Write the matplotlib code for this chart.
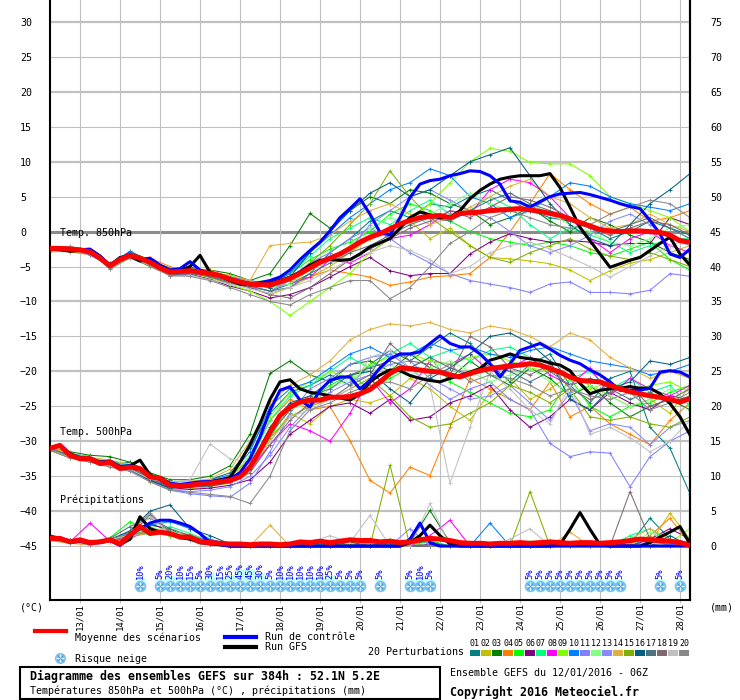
import numpy as np
import matplotlib
matplotlib.use('Agg')
import matplotlib.pyplot as plt
from matplotlib.lines import Line2D
from matplotlib.patches import Rectangle

plt.rcParams['font.family'] = ['DejaVu Sans Mono', 'DejaVu Sans']

# --- donnees : moyenne / controle / GFS toutes les 6h (0..384h) ---
mean850 = [-2.4,-2.4,-2.5,-2.6,-2.9,-3.8,-4.9,-4.0,-3.4,-3.8,
           -4.4,-5.2,-5.8,-5.7,-5.6,-5.8,-6.0,-6.3,-6.8,-7.2,
           -7.5,-7.6,-7.6,-7.2,-6.7,-6.0,-5.2,-4.4,-3.8,-3.2,
           -2.4,-1.5,-0.8,-0.3,0.4,1.1,1.6,2.0,2.2,2.3,
           2.0,2.6,2.7,2.8,3.0,3.1,3.2,3.3,3.1,2.9,
           2.6,2.3,1.8,1.3,0.8,0.3,0.1,0.0,0.1,0.1,
           0.0,-0.1,-0.5,-1.3,-1.5]
ctrl850 = [-2.4,-2.5,-2.6,-2.6,-2.5,-3.5,-4.8,-3.8,-3.2,-4.0,
           -3.8,-4.8,-5.5,-5.3,-4.3,-5.5,-6.0,-6.3,-6.8,-7.3,
           -7.5,-7.3,-7.0,-6.5,-5.5,-4.0,-2.7,-1.5,0.1,2.0,
           3.3,4.7,2.5,-0.1,-0.5,2.0,4.9,6.8,7.3,7.5,
           8.0,8.3,8.7,8.6,8.0,6.8,4.4,4.2,3.5,4.3,
           5.0,5.4,5.5,5.6,5.3,4.9,4.5,4.0,3.6,3.3,
           1.6,-0.3,-3.2,-3.7,-2.5]
gfs850 = [-2.5,-2.6,-2.8,-2.7,-2.6,-3.5,-4.9,-3.7,-3.5,-4.2,
          -4.0,-5.0,-5.8,-5.6,-5.0,-3.4,-5.8,-6.3,-7.0,-7.5,
          -7.6,-7.5,-7.3,-7.0,-6.5,-5.8,-4.8,-4.1,-4.0,-4.1,
          -4.0,-3.2,-2.2,-1.6,-1.0,0.5,2.0,2.8,2.4,2.0,
          2.0,3.0,4.7,5.9,6.8,7.5,7.8,8.0,8.0,8.0,
          8.3,6.3,3.5,0.6,-1.3,-3.2,-5.1,-4.6,-4.1,-3.7,
          -2.7,-1.7,-0.8,-3.2,-4.8]

mean500 = [-31.0,-30.6,-32.0,-32.5,-32.5,-33.2,-33.0,-33.9,-33.7,-33.9,
           -35.1,-35.3,-36.3,-36.4,-36.3,-36.1,-36.0,-35.8,-35.6,-35.1,
           -33.7,-31.3,-28.7,-26.3,-25.1,-24.4,-24.1,-24.1,-23.7,-23.7,
           -23.6,-23.2,-22.6,-21.5,-20.3,-19.5,-19.6,-19.8,-20.0,-20.1,
           -20.5,-20.8,-20.3,-19.9,-19.6,-19.4,-19.2,-19.1,-18.9,-19.1,
           -19.6,-20.1,-20.8,-21.3,-21.4,-21.5,-22.0,-22.5,-22.9,-23.2,
           -23.5,-23.7,-24.0,-24.4,-23.9]
ctrl500 = [-31.0,-30.5,-31.8,-32.3,-32.5,-33.0,-32.8,-33.6,-33.5,-34.0,
           -35.0,-35.2,-36.0,-36.2,-36.0,-35.8,-35.8,-35.6,-35.4,-34.5,
           -32.5,-29.4,-25.6,-22.7,-22.2,-24.1,-25.1,-22.7,-21.3,-20.8,
           -20.8,-22.5,-21.3,-19.5,-18.2,-17.5,-17.5,-17.2,-16.0,-14.9,
           -16.0,-16.5,-16.5,-17.5,-18.9,-20.8,-18.9,-17.0,-16.5,-16.0,
           -16.8,-17.7,-18.4,-18.9,-19.8,-20.5,-21.5,-22.7,-22.7,-22.7,
           -22.4,-20.1,-19.9,-20.1,-20.8]
gfs500 = [-31.0,-30.6,-31.8,-32.5,-32.4,-33.0,-32.9,-33.8,-33.5,-32.7,
          -34.8,-35.5,-36.3,-36.5,-36.4,-36.0,-35.8,-35.5,-35.2,-33.0,
          -30.5,-27.5,-24.0,-21.5,-21.2,-22.5,-23.0,-23.2,-23.5,-23.8,
          -24.1,-23.3,-21.5,-20.5,-19.8,-19.9,-20.6,-21.0,-21.3,-21.5,
          -21.0,-20.6,-20.1,-19.6,-18.4,-18.0,-17.5,-18.0,-18.2,-18.4,
          -18.8,-19.1,-19.9,-21.7,-23.2,-22.7,-22.5,-22.4,-22.2,-22.4,
          -22.4,-23.2,-24.6,-26.5,-29.1]

mean_rr = [1.1,1.1,0.6,0.9,0.5,0.6,0.9,0.3,1.6,2.8,
           1.8,2.0,1.8,1.3,1.3,0.6,0.5,0.4,0.3,0.3,
           0.2,0.3,0.3,0.2,0.3,0.6,0.5,0.7,0.5,0.7,
           0.9,0.8,0.8,0.6,0.7,0.5,0.6,0.9,1.1,1.0,
           0.8,0.5,0.4,0.4,0.3,0.4,0.4,0.5,0.4,0.5,
           0.6,0.5,0.4,0.5,0.5,0.4,0.5,0.6,0.8,1.0,
           0.9,0.8,0.7,0.5,0.1]
ctrl_rr = [1.0,1.2,0.5,0.7,0.4,0.5,0.8,0.1,1.5,2.5,
           3.3,3.7,3.7,3.3,2.8,1.8,0.5,0.2,0,0,
           0,0,0,0,0,0,0,0,0,0,
           0,0,0,0,0,0,1.0,3.3,0.5,0,
           0,0,0,0,0,0,0,0,0,0,
           0,0,0,0,0,0,0,0,0,0,
           0,0,0,0,0]
gfs_rr = [1.2,1.0,0.6,0.8,0.5,0.6,0.9,0.2,1.0,4.2,
          2.5,2.0,1.8,1.2,1.0,0.5,0.3,0.2,0,0,
          0,0,0,0,0,0,0,0,0,0,
          0,0,0,0,0,0,0.5,1.5,3.0,1.5,
          0.3,0,0,0,0,0,0,0,0,0,
          0,0.2,2.4,4.8,2.4,0.2,0,0,0,0,
          0.5,1.3,2.0,2.8,0.3]

# --- 20 perturbations, toutes les 12h ---
pert_colors = ['#008080', '#c0c000', '#008000', '#ff8000', '#00ff00',
               '#800080', '#00ff80', '#ff00ff', '#80ff00', '#0080ff',
               '#8080ff', '#80ff80', '#8888ff', '#e0b040', '#80b000',
               '#006080', '#507080', '#806870', '#c0c0c0', '#888888']

pert850 = [
 [-2.2,-2.6,-3.2,-4.5,-3.0,-4.0,-5.5,-5.0,-6.3,-7.0,-7.8,-8.5,-7.5,-6.0,-3.0,-1.0,1.5,3.0,2.0,4.0,3.5,5.0,6.0,4.5,3.0,2.0,1.5,0.5,-1.0,0.0,1.5,0.5,-0.5],
 [-2.6,-2.4,-2.7,-5.2,-3.6,-4.8,-6.2,-5.9,-6.5,-7.3,-8.0,-9.0,-8.0,-6.5,-5.0,-3.0,-1.0,0.5,1.5,-1.0,0.5,-2.0,-3.7,-3.9,-4.2,-4.6,-5.5,-7.0,-5.6,-4.5,-4.0,-3.0,-2.0],
 [-2.4,-2.8,-3.0,-4.8,-2.8,-4.2,-5.2,-5.4,-5.5,-6.0,-7.0,-6.0,-2.0,2.6,0.5,3.0,5.0,4.0,6.0,5.5,4.0,3.0,1.0,2.0,3.5,1.5,0.0,2.0,1.0,-0.5,-1.5,-3.0,-4.0],
 [-2.7,-2.9,-3.3,-4.6,-3.5,-3.8,-5.0,-6.0,-5.5,-6.5,-7.5,-8.0,-7.0,-6.5,-5.5,-6.0,-6.5,-7.7,-7.2,-6.5,-6.3,-6.0,-3.7,0.0,4.0,8.3,6.0,4.0,2.5,3.5,1.5,2.0,3.0],
 [-2.3,-2.5,-2.8,-5.0,-3.2,-4.5,-6.0,-5.3,-6.2,-6.9,-7.2,-7.0,-6.0,-4.0,-2.5,-1.5,0.0,2.5,4.0,3.0,1.5,0.0,-1.0,-1.5,-2.0,-1.5,-2.0,-3.0,-3.5,-2.5,-1.5,-4.0,-5.5],
 [-2.5,-2.3,-3.1,-5.1,-3.3,-4.6,-6.3,-6.1,-6.8,-7.8,-8.5,-9.5,-9.0,-8.0,-6.5,-5.0,-3.7,-5.6,-6.3,-6.0,-6.0,-3.2,-1.5,-0.3,-1.0,-1.5,-1.3,-1.5,-2.0,-1.7,-1.7,2.0,1.0],
 [-2.4,-2.6,-2.9,-4.7,-3.7,-4.1,-5.9,-5.5,-5.8,-6.4,-7.0,-7.5,-6.0,-3.5,-1.0,0.5,2.0,1.0,3.0,4.5,2.5,3.0,5.0,3.5,1.0,-1.0,0.5,-0.5,-1.5,-3.0,-2.0,-1.0,-1.0],
 [-2.1,-2.4,-3.0,-4.9,-3.1,-4.7,-5.6,-5.8,-6.4,-7.0,-7.5,-8.0,-7.5,-6.5,-4.0,-4.5,-3.0,-1.0,-0.5,1.0,3.0,2.5,6.0,7.5,7.0,5.0,2.0,-1.0,-3.0,-1.0,0.0,-2.0,-3.0],
 [-2.6,-2.7,-2.8,-5.3,-3.8,-4.9,-6.1,-5.9,-6.6,-7.6,-8.5,-10.0,-12.0,-10.0,-8.0,-6.0,-3.0,-1.0,2.0,4.0,7.0,10.0,11.9,11.5,9.9,9.7,9.7,8.0,5.0,4.0,3.0,2.0,0.0],
 [-2.5,-2.5,-2.6,-4.6,-2.9,-4.3,-5.7,-5.0,-6.0,-6.6,-7.3,-7.5,-6.0,-3.0,-0.5,2.0,4.0,6.0,7.0,9.0,8.0,5.0,4.0,2.0,3.0,5.0,7.0,6.5,5.0,4.0,3.5,3.0,4.0],
 [-2.2,-2.4,-3.4,-4.8,-3.6,-4.5,-5.3,-5.7,-5.9,-6.5,-7.0,-7.5,-6.5,-4.5,-3.0,-1.0,0.5,-1.0,-3.0,-4.5,-6.0,-7.0,-7.5,-8.0,-8.7,-7.5,-7.2,-8.7,-8.7,-8.9,-8.4,-6.0,-6.4],
 [-2.8,-2.6,-2.9,-5.0,-3.4,-4.4,-6.0,-5.6,-6.1,-7.0,-7.6,-8.0,-7.5,-5.5,-4.0,-2.0,0.5,2.0,1.0,2.5,4.0,5.5,4.0,3.0,4.0,2.5,1.0,0.0,-1.5,-2.0,-1.0,0.5,1.0],
 [-2.4,-2.2,-2.7,-5.2,-3.0,-4.6,-5.8,-5.4,-6.2,-7.1,-8.0,-8.5,-7.0,-5.0,-3.5,-2.5,1.0,3.0,5.0,6.0,4.5,3.0,2.0,0.0,-2.0,-3.0,-2.0,-0.5,1.5,2.5,1.0,-1.0,-2.0],
 [-2.9,-2.8,-3.1,-4.8,-3.3,-3.9,-5.4,-5.2,-5.9,-6.2,-7.0,-2.0,-1.7,-1.5,-0.5,1.5,3.0,4.0,2.5,1.0,2.0,3.5,5.0,6.5,7.5,5.0,4.0,2.0,0.5,1.0,2.5,1.0,0.0],
 [-2.3,-2.5,-3.0,-4.9,-3.6,-4.2,-5.9,-5.7,-6.3,-6.9,-7.5,-8.0,-7.0,-4.5,-2.0,1.0,4.0,8.7,5.0,2.0,0.0,-2.0,-3.7,-4.4,-3.0,-2.0,-1.0,-2.5,-3.5,-4.0,-3.0,-4.0,-5.0],
 [-2.5,-2.7,-2.8,-4.7,-3.2,-4.4,-5.5,-5.3,-5.8,-6.7,-7.5,-8.0,-6.5,-3.0,0.0,3.0,5.5,7.0,5.0,6.0,8.0,10.0,11.0,12.0,8.0,4.0,1.0,-1.0,-2.0,1.0,4.0,6.0,8.3],
 [-2.6,-2.4,-3.2,-5.1,-3.5,-4.8,-6.2,-6.0,-6.4,-7.2,-7.8,-8.5,-8.0,-6.0,-4.5,-3.0,-2.0,-0.5,1.0,2.0,1.5,3.0,4.5,5.5,4.0,3.0,2.0,1.0,0.0,1.0,2.0,0.5,-1.0],
 [-2.4,-2.6,-2.9,-5.0,-3.3,-4.5,-5.8,-5.8,-6.5,-7.4,-8.0,-9.0,-9.5,-8.0,-6.0,-4.0,-2.5,-1.0,0.5,1.5,3.0,2.0,3.5,5.0,4.5,3.5,2.0,0.5,-0.5,0.5,1.5,1.0,-0.5],
 [-2.7,-2.5,-3.0,-4.9,-3.9,-4.7,-6.4,-6.2,-6.9,-7.5,-8.2,-8.8,-8.0,-7.0,-5.5,-4.0,-3.0,-2.0,-2.7,-4.0,-6.0,-5.0,-3.0,-2.0,-1.5,-2.5,-3.7,-5.0,-6.5,-5.0,-3.5,-2.0,-1.0],
 [-2.3,-2.1,-2.8,-5.4,-3.7,-5.0,-6.3,-6.4,-7.0,-8.0,-9.0,-10.0,-10.5,-9.0,-8.0,-7.0,-7.0,-9.6,-8.0,-5.0,-1.7,0.0,2.0,3.0,2.0,1.0,0.5,1.0,2.5,3.5,4.5,4.0,2.0],
]

pert500 = [
 [-31.2,-31.8,-32.2,-33.4,-33.0,-35.5,-36.8,-36.0,-35.5,-34.5,-31.0,-26.0,-23.0,-22.0,-20.5,-22.0,-19.0,-17.0,-18.5,-16.5,-14.5,-16.0,-19.0,-21.5,-19.0,-17.5,-22.0,-24.5,-21.0,-20.0,-28.0,-31.0,-37.5],
 [-30.8,-32.2,-32.8,-33.2,-34.0,-35.8,-37.0,-36.8,-36.5,-36.0,-34.5,-30.0,-26.0,-27.5,-25.0,-24.0,-24.5,-23.5,-21.0,-22.5,-25.0,-27.0,-23.0,-21.0,-24.0,-22.5,-20.5,-22.0,-23.5,-25.0,-24.0,-26.0,-22.0],
 [-31.0,-31.5,-32.0,-32.2,-33.0,-34.5,-35.5,-35.5,-35.0,-33.5,-29.0,-20.3,-18.5,-20.5,-21.5,-19.0,-18.5,-20.0,-17.5,-19.5,-21.0,-18.5,-20.5,-22.0,-19.5,-21.0,-23.5,-22.0,-24.5,-26.5,-25.0,-24.0,-25.5],
 [-31.3,-32.4,-32.6,-33.1,-34.1,-35.4,-36.2,-36.0,-35.8,-35.2,-32.5,-27.0,-24.0,-25.5,-25.0,-29.9,-35.6,-37.4,-33.7,-34.9,-28.0,-21.0,-22.5,-24.0,-25.5,-21.5,-26.5,-25.0,-27.5,-29.0,-30.5,-27.0,-24.5],
 [-30.9,-31.9,-32.5,-32.8,-33.5,-35.0,-36.4,-36.6,-36.2,-35.8,-34.0,-29.5,-25.0,-24.0,-22.0,-20.5,-22.5,-21.0,-19.5,-18.0,-21.5,-23.0,-24.5,-26.0,-26.5,-25.5,-21.0,-25.0,-26.5,-25.0,-24.5,-23.0,-22.0],
 [-31.1,-32.1,-32.9,-33.5,-33.9,-35.3,-36.6,-36.9,-36.7,-36.3,-35.5,-33.0,-29.0,-27.0,-25.0,-24.5,-26.0,-24.0,-27.0,-26.5,-24.5,-23.5,-22.0,-25.5,-28.0,-26.5,-24.0,-25.5,-23.0,-24.5,-25.5,-23.5,-24.0],
 [-31.0,-31.7,-32.3,-32.9,-33.4,-34.8,-36.0,-36.2,-35.8,-35.4,-33.0,-27.0,-23.5,-22.0,-20.0,-18.0,-19.5,-17.5,-16.0,-18.0,-17.0,-18.5,-17.0,-16.5,-18.0,-19.5,-21.0,-20.0,-22.5,-21.0,-23.0,-22.0,-25.0],
 [-31.2,-32.0,-32.7,-33.2,-33.6,-35.2,-36.5,-36.4,-36.1,-35.7,-34.0,-30.5,-27.5,-28.5,-30.0,-26.0,-21.0,-24.5,-22.5,-18.5,-19.0,-17.5,-20.0,-19.5,-18.0,-20.5,-22.0,-19.5,-23.5,-21.0,-22.5,-23.5,-22.0],
 [-30.8,-31.9,-32.4,-33.0,-33.8,-35.0,-36.2,-36.1,-35.9,-35.3,-32.0,-26.5,-23.0,-21.5,-20.0,-21.0,-19.0,-18.0,-17.5,-18.5,-19.0,-18.0,-17.5,-18.5,-19.5,-20.0,-21.0,-22.5,-21.5,-23.0,-22.0,-21.5,-23.0],
 [-31.0,-32.1,-32.5,-33.0,-33.7,-35.1,-36.0,-36.0,-35.5,-34.8,-31.5,-25.0,-22.5,-21.5,-19.5,-17.5,-16.5,-18.0,-17.5,-16.0,-17.0,-16.5,-17.5,-18.0,-17.0,-16.5,-17.5,-18.5,-19.0,-19.5,-20.5,-20.0,-19.0],
 [-31.1,-32.0,-32.6,-33.3,-34.0,-35.6,-37.0,-37.5,-37.8,-38.0,-36.0,-31.5,-26.0,-22.5,-21.0,-19.0,-18.0,-17.5,-19.5,-22.0,-24.0,-22.5,-21.5,-24.0,-25.5,-30.3,-32.2,-31.5,-31.7,-36.5,-32.2,-30.0,-28.5],
 [-31.0,-32.0,-32.4,-33.1,-33.6,-35.0,-36.1,-36.3,-36.0,-35.5,-33.5,-29.0,-25.5,-24.5,-22.5,-21.0,-20.0,-19.0,-20.5,-19.5,-18.5,-20.0,-21.5,-20.5,-19.5,-21.5,-23.0,-22.0,-23.5,-25.0,-24.0,-22.5,-24.5],
 [-31.2,-32.3,-32.8,-33.4,-34.2,-35.7,-36.9,-37.2,-37.0,-36.5,-35.0,-32.0,-28.0,-25.0,-23.0,-21.5,-20.5,-19.0,-18.5,-21.0,-22.5,-24.0,-23.5,-22.0,-24.5,-27.0,-23.0,-28.5,-27.5,-28.0,-30.5,-28.0,-27.0],
 [-30.9,-31.8,-32.3,-32.7,-33.3,-34.7,-35.8,-35.7,-35.4,-34.0,-30.0,-24.5,-22.0,-20.5,-18.5,-15.5,-14.0,-13.2,-13.5,-13.0,-14.0,-14.5,-13.5,-14.0,-15.0,-16.5,-14.5,-15.5,-18.0,-19.5,-21.0,-20.0,-21.0],
 [-31.0,-32.2,-32.6,-33.0,-33.8,-35.2,-36.4,-36.3,-36.0,-35.7,-33.8,-29.5,-26.5,-25.0,-24.0,-22.5,-21.0,-23.5,-26.5,-28.0,-27.5,-26.0,-24.5,-22.0,-23.0,-24.5,-22.5,-26.5,-27.0,-26.5,-27.5,-28.0,-26.5],
 [-31.1,-32.0,-32.5,-33.2,-34.0,-35.6,-36.7,-36.5,-36.4,-35.9,-33.5,-28.0,-24.5,-23.5,-21.5,-20.5,-20.0,-22.5,-24.5,-21.0,-19.5,-17.5,-15.0,-14.5,-16.0,-18.5,-24.0,-25.5,-22.5,-21.5,-18.5,-19.0,-18.0],
 [-31.3,-32.2,-32.7,-33.3,-33.9,-35.3,-36.5,-36.6,-36.3,-35.9,-34.0,-29.0,-25.5,-23.5,-22.5,-20.5,-19.5,-18.5,-19.5,-18.0,-19.5,-20.5,-19.0,-20.0,-21.5,-20.0,-22.0,-21.0,-22.5,-24.0,-23.0,-24.5,-23.5],
 [-31.0,-32.1,-32.6,-33.2,-33.8,-35.1,-36.3,-36.4,-36.2,-35.8,-34.5,-30.5,-27.0,-24.5,-24.0,-22.0,-20.5,-16.0,-18.5,-19.0,-20.5,-15.0,-16.5,-19.5,-20.5,-19.0,-22.5,-24.0,-23.0,-22.0,-25.0,-24.0,-22.5],
 [-31.2,-32.3,-32.9,-33.6,-34.0,-35.4,-36.0,-35.5,-30.4,-32.5,-33.0,-30.0,-26.5,-25.5,-24.0,-22.5,-18.0,-17.0,-19.5,-22.0,-36.0,-28.0,-20.0,-22.5,-25.5,-27.5,-22.0,-29.0,-28.0,-29.5,-31.5,-30.0,-27.0],
 [-31.3,-32.4,-33.0,-33.7,-34.3,-35.8,-37.0,-37.3,-37.6,-37.9,-38.9,-35.0,-28.5,-25.5,-24.5,-23.0,-22.0,-21.5,-22.5,-20.5,-19.0,-21.5,-20.5,-21.0,-22.0,-23.5,-22.5,-23.5,-24.0,-23.0,-25.5,-24.5,-23.0],
]

pert_rr = [
 [1.0,0.8,0.3,0.9,1.8,2.2,2.0,1.5,0.6,0.2,0,0,0,0.5,0.3,0.8,1.0,0,0.4,0.6,0,0,0,0,0,0.5,0,0,0,0.3,4.0,1.0,0.5],
 [1.2,0.5,0.6,0.7,1.2,2.8,1.5,1.0,0.3,0,0,0,0,0,0.2,0.5,0,1.0,0,0,0,0,0.3,0,0,0.8,0,0,0.2,0,0.5,4.7,1.0],
 [1.5,0.8,0.5,1.0,2.0,3.0,2.5,1.0,0.5,0.3,0,0,0,0,0,0.6,0,0,0.5,5.1,0.5,0,0,0,0,0,0,0,0,0.6,0,0.8,0],
 [0.8,0.4,0.2,0.6,1.0,2.5,2.0,1.6,0.8,0,0,0,0,0,0.3,0,0,0,0,0,0,0.5,0,0,0,0,0,0.4,0,0.3,1.5,4.0,0.3],
 [1.0,0.6,0.4,1.2,3.5,2.0,1.5,1.0,0.4,0.2,0,0,0,0,0,0,0.4,0,0,0.8,0,0,0,0,0.6,0,0,0,0,0,0,0.3,0],
 [1.6,0.9,0.3,0.8,1.5,3.2,2.2,1.2,0.4,0,0,0,0,0,0,0,0,0,0,0.3,0,0,0,0,0,0,0,0.3,0,0,1.0,2.5,1.0],
 [0.9,0.5,0.6,0.9,1.4,1.8,2.8,1.8,0.7,0.3,0,0,0,0.4,0,0,0,0.3,0,0,0,0,0.5,0,0,0,0,0,0,1.5,2.5,0.5,0],
 [1.1,0.6,3.3,0.7,1.3,2.0,1.6,1.2,0.9,0.3,0,0,0,0,0,0,0,0,0,1.5,3.7,0,0,0,0,0,0,0,0.5,0,0.6,0.3,0],
 [1.3,0.7,0.5,1.1,1.7,2.4,2.0,1.4,0.5,0.2,0,0,0,0,0,0.3,0,0,0,0,0,0,0,0,0,0.4,0,0,0,0,0.5,0.5,2.5],
 [0.9,0.6,0.4,0.8,1.2,3.0,3.5,2.5,1.0,0.2,0,0,0,0,0,0,0,0.5,0,0,0,0,3.3,0,0,0,0,0,0,0,0,0,0],
 [1.0,0.7,0.2,1.0,1.9,2.3,1.8,0.9,0.3,0,0,0,0,0,0,0,0.5,0,0,0,0,0,0,0,0,0,0,0,0,0,0.6,0.3,0],
 [1.2,0.5,0.5,0.8,1.6,2.6,2.2,1.3,0.6,0,0,0,0,0,0,0,0,0,0.5,0,0,0.5,0,0,0,0,0,0,0,0,2.0,0.5,0],
 [1.4,0.8,0.4,0.7,1.5,2.1,2.0,1.1,0.5,0.2,0,0,0,0,0,0,0.5,0,2.5,0,0,0,0,0,0,0,0,0,0,0,0,0,0],
 [1.1,0.6,0.3,0.9,1.4,1.9,1.7,1.0,0.4,0,0,3.0,0,0,0,0,0,0,0,0,0,0,0,0,0,0,2.0,0,0,1.0,2.5,1.0,0],
 [1.0,0.5,0.6,1.0,1.7,2.0,1.6,1.2,0.5,0,0,0,0,0,0,0,0,11.6,0,0,0,0,0,0,7.8,0,0,0,0,0,0,1.0,0],
 [1.3,0.7,0.5,0.9,2.2,5.0,5.9,2.5,1.5,0.3,0,0,0,0,0,0,0,0,0,0,0,0,0,0,0,0,0,0,0,0,0,1.5,0],
 [1.2,0.6,0.4,1.1,2.8,4.0,2.5,1.5,0.6,0.2,0,0,0,0,0,0,0,0,0,0,0,0,0,0,0,0,0,0,0,0,1.2,0.5,0],
 [1.0,0.8,0.3,0.8,1.5,4.5,2.0,1.0,0.3,0,0,0,0,0,0,0,0,0,0,0,0,0,0,0,0,0,0,0,0,7.8,1.0,0,0],
 [1.1,0.7,0.5,0.9,1.6,4.2,1.8,1.2,0.5,0.2,0,0,0,0.5,1.5,0.5,4.4,0,0,6.1,0,0,0,1.0,2.5,0,0,0,0,0,0.5,0,0],
 [1.0,0.5,0.7,1.0,1.8,4.8,1.9,1.3,0.4,0,0,0,0,0,0,0,0,0,0.5,0,0,0,0,0,0,0,0,0,0,0,0,0,0],
]

# risque neige (heure, %)
snow_hours = [54, 66, 72, 78, 84, 90, 96, 102, 108, 114, 120, 126, 132, 138, 144,
              150, 156, 162, 168, 174, 180, 186, 198, 216, 222, 228,
              288, 294, 300, 306, 312, 318, 324, 330, 336, 342, 366, 378]
snow_pct = [10, 5, 20, 10, 15, 5, 30, 15, 25, 45, 45, 30, 5, 10, 10,
            10, 10, 10, 25, 5, 5, 5, 5, 5, 10, 5,
            5, 5, 5, 5, 5, 5, 5, 5, 5, 5, 5, 5]

day_labels = ['13/01', '14/01', '15/01', '16/01', '17/01', '18/01', '19/01', '20/01',
              '21/01', '22/01', '23/01', '24/01', '25/01', '26/01', '27/01', '28/01']
day_hours = [18 + 24 * n for n in range(len(day_labels))]

h6 = np.arange(len(mean850)) * 6
h12 = np.arange(len(pert850[0])) * 12

W, H = 740, 700
fig = plt.figure(figsize=(W / 100, H / 100), dpi=100)
ax = fig.add_axes([50 / W, 1 - 600 / H, 640 / W, 600 / H])
ax.set_xlim(0, 384)
ax.set_ylim(-45 - 54 / 7, 30 + 22 / 7)

# grille
for lev in range(-45, 31, 5):
    if lev == 0:
        ax.axhline(lev, color='#8c8c8c', lw=2.2, zorder=1)
    elif lev % 10 == 0:
        ax.axhline(lev, color='#c0c0c0', lw=1.6, zorder=1)
    else:
        ax.axhline(lev, color='#c0c0c0', lw=0.8, zorder=1)
for h in day_hours:
    ax.axvline(h, color='#c0c0c0', lw=0.8, zorder=1)

# spaghettis
for m in range(20):
    c = pert_colors[m]
    kw = dict(color=c, lw=0.75, marker='+', ms=3, mew=0.6, zorder=2)
    ax.plot(h12, pert850[m], **kw)
    ax.plot(h12, pert500[m], **kw)
    ax.plot(h12, np.array(pert_rr[m]) - 45, **kw)

for series, col, lw, z in [((gfs850, gfs500, gfs_rr), 'black', 2.2, 3),
                           ((ctrl850, ctrl500, ctrl_rr), '#0000ff', 2.2, 4),
                           ((mean850, mean500, mean_rr), '#ff0000', 3.6, 5)]:
    ax.plot(h6, series[0], color=col, lw=lw, zorder=z)
    ax.plot(h6, series[1], color=col, lw=lw, zorder=z)
    ax.plot(h6, np.array(series[2]) - 45, color=col, lw=lw, zorder=z)

# risque neige
ax.bar(snow_hours, np.array(snow_pct) * 0.037, bottom=-50.0, width=6,
       color='#c0ffff', zorder=1)
ys = [-50.71] * len(snow_hours)
ax.scatter(snow_hours, ys, s=70, color='#78c4f0', zorder=6, lw=0)
ax.scatter(snow_hours, ys, s=30, marker='+', color='white', lw=0.8, zorder=7)
ax.scatter(snow_hours, ys, s=18, marker='x', color='#3a9ae0', lw=0.6, zorder=7)
for h, p in zip(snow_hours, snow_pct):
    ax.text(h, -49.7, f'{p}%', rotation=90, ha='center', va='bottom',
            fontsize=6.2, color='#0000ff', zorder=8)

ax.text(6, -0.15, 'Temp. 850hPa', fontsize=7.2, va='center', zorder=8)
ax.text(6, -28.67, 'Temp. 500hPa', fontsize=7.2, va='center', zorder=8)
ax.text(6, -38.4, 'Précipitations', fontsize=7.2, va='center', zorder=8)

# axes
ax.set_yticks(range(-45, 31, 5))
ax.tick_params(axis='y', length=0, pad=21.6, labelsize=7.2)
for lab in ax.get_yticklabels():
    lab.set_horizontalalignment('left')
sec = ax.secondary_yaxis('right', functions=(lambda t: t + 45, lambda p: p - 45))
sec.set_yticks(range(0, 76, 5))
sec.tick_params(length=0, pad=14.4, labelsize=7.2)
sec.spines['right'].set_linewidth(1.5)
ax.set_xticks(day_hours)
ax.set_xticklabels(day_labels, rotation=90)
ax.tick_params(axis='x', length=2, color='#c0c0c0', pad=0.5, labelsize=6.5)
ax.spines['top'].set_visible(False)
for s in ['left', 'bottom', 'right']:
    ax.spines[s].set_linewidth(1.5)


def fx(x):
    return x / W


def fy(y):
    return 1 - y / H


def ftext(x, y, s, **kw):
    kw.setdefault('fontsize', 7.2)
    fig.text(fx(x), fy(y), s, va='center', ha='left', **kw)


ftext(20, 607, '(°C)')
ftext(710, 607, '(mm)')

# legende
fig.add_artist(Line2D([fx(35), fx(66)], [fy(631)] * 2, color='#ff0000', lw=3))
ftext(75, 638, 'Moyenne des scénarios')
fig.add_artist(Line2D([fx(225), fx(256)], [fy(637)] * 2, color='#0000ff', lw=3))
ftext(265, 637, 'Run de contrôle')
fig.add_artist(Line2D([fx(225), fx(256)], [fy(647)] * 2, color='black', lw=3))
ftext(265, 647, 'Run GFS')
fig.add_artist(Line2D([fx(60)], [fy(658)], marker='o', ms=8, color='#78c4f0', ls='', mew=0))
fig.add_artist(Line2D([fx(60)], [fy(658)], marker='+', ms=5.5, color='white', ls='', mew=0.8))
fig.add_artist(Line2D([fx(60)], [fy(658)], marker='x', ms=4, color='#3a9ae0', ls='', mew=0.6))
ftext(75, 659, 'Risque neige')

ftext(368, 652, '20 Perturbations')
for j, c in enumerate(pert_colors):
    x0 = 470 + 11 * j
    fig.add_artist(Rectangle((fx(x0), fy(656)), 10 / W, 6 / H, color=c, lw=0))
    fig.text(fx(x0 + 5), fy(644), f'{j + 1:02d}', fontsize=6, ha='center', va='center')

fig.add_artist(Rectangle((fx(20), fy(699)), 420 / W, 32 / H, fill=False, ec='black', lw=1.5))
ftext(30, 676, 'Diagramme des ensembles GEFS sur 384h : 52.1N 5.2E',
      fontsize=8.4, fontweight='bold')
ftext(30, 691, 'Températures 850hPa et 500hPa (°C) , précipitations (mm)')
ftext(450, 673, 'Ensemble GEFS du 12/01/2016 - 06Z')
ftext(450, 692, 'Copyright 2016 Meteociel.fr', fontsize=8.4, fontweight='bold')

fig.savefig('out.png', dpi=100)
